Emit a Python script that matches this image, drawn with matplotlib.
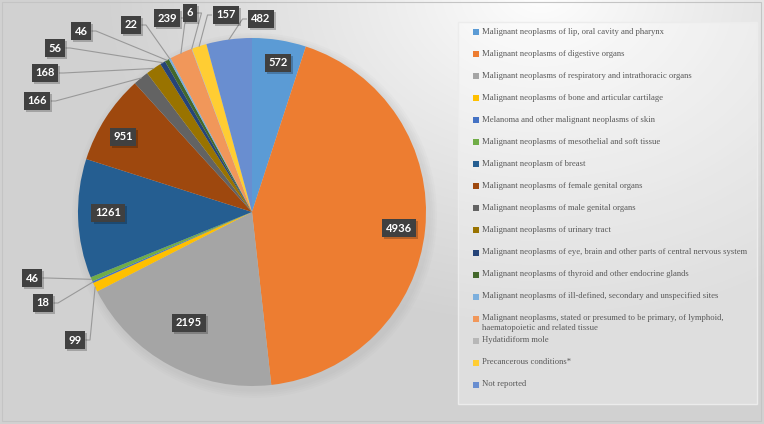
import numpy as np
import matplotlib
matplotlib.use("Agg")
import matplotlib.pyplot as plt
from matplotlib.patches import Rectangle, Circle
import matplotlib.patheffects as pe

categories = [
    "Malignant neoplasms of lip, oral cavity and pharynx",
    "Malignant neoplasms of digestive organs",
    "Malignant neoplasms of respiratory and intrathoracic organs",
    "Malignant neoplasms of bone and articular cartilage",
    "Melanoma and other malignant neoplasms of skin",
    "Malignant neoplasms of mesothelial and soft tissue",
    "Malignant neoplasm of breast",
    "Malignant neoplasms of female genital organs",
    "Malignant neoplasms of male genital organs",
    "Malignant neoplasms of urinary tract",
    "Malignant neoplasms of eye, brain and other parts of central nervous system",
    "Malignant neoplasms of thyroid and other endocrine glands",
    "Malignant neoplasms of ill-defined, secondary and unspecified sites",
    "Malignant neoplasms, stated or presumed to be primary, of lymphoid,\nhaematopoietic and related tissue",
    "Hydatidiform mole",
    "Precancerous conditions*",
    "Not reported",
]
values = [572, 4936, 2195, 99, 18, 46, 1261, 951, 166, 168, 56, 46, 22, 239, 6, 157, 482]

colors = ["#5B9BD5", "#ED7D31", "#A5A5A5", "#FFC000", "#4472C4", "#70AD47",
          "#255E91", "#9E480E", "#636363", "#997300", "#264478", "#43682B",
          "#7CAFDD", "#F1975A", "#B7B7B7", "#FFCD33", "#698ED0"]

# label box centres in pixel coords (x from left, y from top)
label_px = [(278, 63), (399, 228), (189, 323), (75, 340), (43, 303), (32, 278),
            (108, 213), (123, 137), (37, 101), (45, 73), (55, 48), (81, 31),
            (131, 25), (167, 18), (190, 13), (226, 15), (261, 19)]
outside = [False, False, False, True, True, True, False, False, True, True,
           True, True, True, True, True, True, True]

W, H = 764, 424
fig = plt.figure(figsize=(W / 100, H / 100), dpi=100)

# background gradient
bg = fig.add_axes([0, 0, 1, 1], zorder=0)
yy, xx = np.mgrid[0:H, 0:W]
d = np.sqrt(((xx - 540) / 1.0) ** 2 + ((yy + 10) * 1.3) ** 2)
t = np.clip(d / 440.0, 0, 1) ** 0.9
light = 1.0 - t * (1.0 - 0.82)
img = np.dstack([light, light, light])
bg.imshow(img, extent=[0, W, H, 0], aspect="auto", interpolation="bilinear")
bg.set_xlim(0, W)
bg.set_ylim(H, 0)
bg.axis("off")
bg.add_patch(Rectangle((2, 2), W - 5, H - 5, fill=False, ec="#c4c4c4", lw=0.8))

# legend box
bg.add_patch(Rectangle((458, 22), 299, 382, fc="white", alpha=0.3, ec="none"))
bg.add_patch(Rectangle((458, 22), 299, 382, fill=False, ec="#ececec", lw=1.0))

# pie
cx, cy, R = 252, 212, 174
ax = fig.add_axes([0, 0, 504 / W, 1], zorder=1)
ax.patch.set_alpha(0)

# soft shadow
for k in range(4):
    ax.add_patch(Circle((0.015, -0.02), 1.0 + 0.012 * (4 - k), fc="#808080",
                        ec="none", alpha=0.035))

wedges, _ = ax.pie(values, colors=colors, startangle=90, counterclock=False,
                   radius=1.0, wedgeprops=dict(linewidth=0))
ax.set_aspect("auto")
ax.set_xlim(-cx / R, (504 - cx) / R)
ax.set_ylim(-(H - cy) / R, cy / R)
ax.axis("off")

box = dict(boxstyle="square,pad=0.32", fc="#404040", ec="none")
shadow = [pe.withSimplePatchShadow(offset=(1.5, -1.5), shadow_rgbFace="#000000", alpha=0.22)]

for i, (w, v) in enumerate(zip(wedges, values)):
    px, py = label_px[i]
    lx, ly = (px - cx) / R, (cy - py) / R
    txt = ax.text(lx, ly, f"{v}", ha="center", va="center", color="white",
                  fontsize=8, fontweight="bold", family=["Lato", "DejaVu Sans"],
                  bbox=box, zorder=5)
    txt.get_bbox_patch().set_path_effects(shadow)
    if outside[i]:
        ang = np.deg2rad((w.theta1 + w.theta2) / 2)
        ex, ey = np.cos(ang) * 1.0, np.sin(ang) * 1.0
        half_w = (4 + 3.5 * len(str(v))) / R
        sx = lx + half_w if ex > lx else lx - half_w
        hx = sx + (4 / R if ex > lx else -4 / R)
        ax.plot([sx, hx, ex], [ly, ly, ey], color="#999999", lw=0.8, zorder=4)

# legend (Excel-like)
lg = fig.add_axes([458 / W, (H - 404) / H, 299 / W, 382 / H], zorder=2)
lg.set_xlim(0, 299)
lg.set_ylim(382, 0)
lg.axis("off")
for i, (lab, col) in enumerate(zip(categories, colors)):
    y = 10 + i * 22.05
    lg.add_patch(Rectangle((15, y - 3), 6, 6, fc=col, ec="none"))
    lg.text(24, y - 4.5, lab, ha="left", va="top", fontsize=6.2, color="#595959",
            family="Liberation Serif", linespacing=1.25)

fig.savefig("out.png", dpi=100)
